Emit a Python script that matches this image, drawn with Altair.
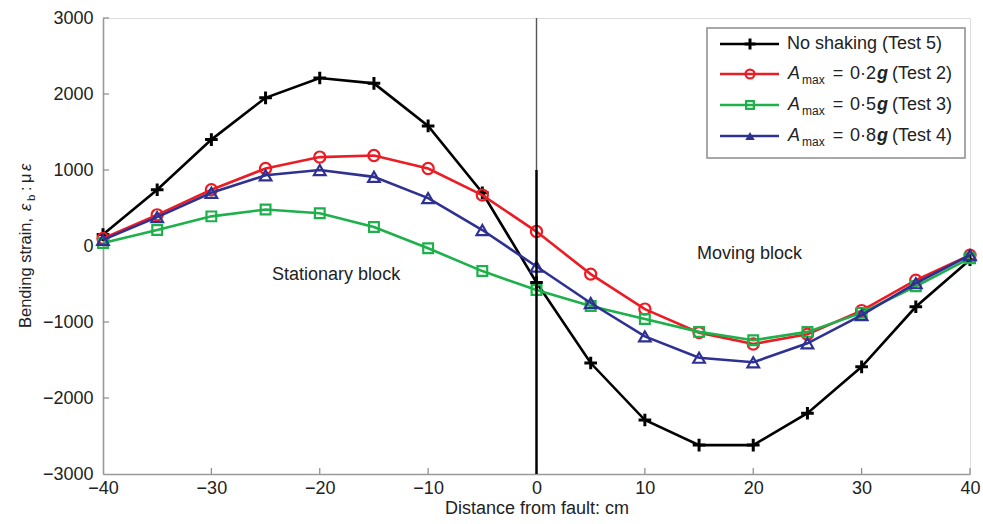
import altair as alt
import pandas as pd

# Distance from the fault (cm) at each strain gauge
distance = [-40, -35, -30, -25, -20, -15, -10, -5, 0, 5, 10, 15, 20, 25, 30, 35, 40]

# Bending strain (micro-strain) per test
no_shaking = [150, 740, 1400, 1950, 2210, 2140, 1580, 700, -480, -1540, -2290, -2620, -2620, -2200, -1590, -800, -180]
amax_02g = [100, 410, 740, 1020, 1170, 1190, 1020, 670, 190, -370, -830, -1140, -1290, -1160, -850, -450, -120]
amax_05g = [40, 210, 390, 480, 430, 250, -30, -330, -580, -790, -960, -1130, -1240, -1130, -880, -530, -160]
amax_08g = [80, 380, 700, 930, 1000, 910, 630, 210, -270, -750, -1190, -1470, -1530, -1280, -910, -490, -120]

series_names = ["No shaking (Test 5)", "Amax 0.2g (Test 2)", "Amax 0.5g (Test 3)", "Amax 0.8g (Test 4)"]
series_values = [no_shaking, amax_02g, amax_05g, amax_08g]
series_accel = [None, "0·2", "0·5", "0·8"]
series_test = ["(Test 5)", "(Test 2)", "(Test 3)", "(Test 4)"]

x_ticks = [-40, -30, -20, -10, 0, 10, 20, 30, 40]
y_ticks = [-3000, -2000, -1000, 0, 1000, 2000, 3000]

fault_x = 0
notes = ["Stationary block", "Moving block"]
notes_x = [-24.4, 14.8]
notes_y = [-380, -105]

# styling
FONT = "Liberation Sans"
TXT = "#222222"
colors = ["#000000", "#EC1C24", "#1DB04B", "#2E3192"]
plus_path = "M-1,0L1,0M0,-1L0,1"
shapes = [plus_path, "circle", "square", "triangle-up"]
sizes = [160, 125, 95, 135]

W, H = 867, 456

xscale = alt.Scale(domain=[-40, 40], nice=False, zero=False)
yscale = alt.Scale(domain=[-3000, 3000], nice=False, zero=False)
xaxis = alt.Axis(values=x_ticks, tickSize=0, grid=False, domainColor="#9a9a9a", domainWidth=1.6,
                 labelFontSize=18, labelColor=TXT, labelPadding=5, labelFont=FONT, format="d",
                 labelFlush=False,
                 title="Distance from fault: cm", titleFontSize=18, titleFontWeight="normal",
                 titleColor=TXT, titleFont=FONT, titlePadding=2)
yaxis = alt.Axis(values=y_ticks, tickSize=0, grid=False, domainColor="#9a9a9a", domainWidth=1.6,
                 labelFontSize=18, labelColor=TXT, labelPadding=10, labelFont=FONT, format="d",
                 labelFlush=False, title=None)


def X(field="distance"):
    return alt.X(f"{field}:Q", scale=xscale, axis=xaxis)


def Y(field="strain"):
    return alt.Y(f"{field}:Q", scale=yscale, axis=yaxis)


layers = []

# inward tick marks on both axes
xt = pd.DataFrame({"distance": x_ticks[1:]})
layers.append(alt.Chart(xt).mark_rule(color="#8a8a8a", strokeWidth=1.2).encode(
    x=X(), y=alt.value(H), y2=alt.value(H - 6)))
yt = pd.DataFrame({"strain": y_ticks[1:]})
layers.append(alt.Chart(yt).mark_rule(color="#8a8a8a", strokeWidth=1.2).encode(
    y=Y(), x=alt.value(0), x2=alt.value(6)))

# strain profiles
for name, vals, col, shp, sz in zip(series_names, series_values, colors, shapes, sizes):
    df = pd.DataFrame({"distance": distance, "strain": vals, "series": name})
    base = alt.Chart(df).encode(x=X(), y=Y())
    layers.append(base.mark_line(color=col, strokeWidth=2.6, clip=False))
    layers.append(base.mark_point(shape=shp, size=sz, color=col, filled=False,
                                  strokeWidth=2.2 if shp != plus_path else 3,
                                  opacity=1, clip=False))

# fault line
fault = pd.DataFrame({"distance": [fault_x], "strain": [3000], "strain_end": [-3000]})
layers.append(alt.Chart(fault).mark_rule(color="#555555", strokeWidth=1.4).encode(
    x=X(), y=Y(), y2="strain_end:Q"))
fault2 = pd.DataFrame({"distance": [fault_x], "strain": [1000], "strain_end": [-3000]})
layers.append(alt.Chart(fault2).mark_rule(color="#000000", strokeWidth=2.4).encode(
    x=X(), y=Y(), y2="strain_end:Q"))

# block annotations
nd = pd.DataFrame({"distance": notes_x, "strain": notes_y, "label": notes})
layers.append(alt.Chart(nd).mark_text(align="left", baseline="middle", font=FONT,
                                      fontSize=18, color=TXT).encode(
    x=X(), y=Y(), text="label:N"))

# y-axis title with Greek symbols and subscript
one = pd.DataFrame({"k": [0]})


def txt(s, x, y, size=16, angle=0, align="left", baseline="alphabetic", style="normal",
        weight="normal"):
    return alt.Chart(one).mark_text(text=s, align=align, baseline=baseline, angle=angle,
                                    font=FONT, fontSize=size, fontStyle=style,
                                    fontWeight=weight, color=TXT).encode(
        x=alt.value(x), y=alt.value(y))


tx = -72
layers += [
    txt("Bending strain,", tx, 310, size=16.5, angle=270),
    txt("ε", tx, 193, size=16.5, angle=270, style="italic"),
    txt("b", tx + 4, 183, size=11.5, angle=270),
    txt(":", tx, 173, size=16.5, angle=270),
    txt("μ", tx, 165, size=16.5, angle=270),
    txt("ε", tx, 153, size=16.5, angle=270, style="italic"),
]

# legend
layers.append(alt.Chart(one).mark_rect(fill="white", stroke="#8c8c8c", strokeWidth=1.5).encode(
    x=alt.value(604), x2=alt.value(862), y=alt.value(10), y2=alt.value(140)))
row_y = [26, 56, 87, 118]
legend_sizes = [120, 80, 60, 90]
LS = 18
for i, (col, shp, ry) in enumerate(zip(colors, shapes, row_y)):
    layers.append(alt.Chart(one).mark_rule(color=col, strokeWidth=2.6).encode(
        x=alt.value(617), x2=alt.value(676), y=alt.value(ry)))
    layers.append(alt.Chart(one).mark_point(shape=shp, size=legend_sizes[i], color=col,
                                            filled=(shp == "triangle-up"), opacity=1,
                                            strokeWidth=2.2 if shp != plus_path else 3).encode(
        x=alt.value(647), y=alt.value(ry)))
    if series_accel[i] is None:
        layers.append(txt(series_names[i], 684, ry, size=LS, baseline="middle"))
    else:
        layers += [
            txt("A", 685, ry, size=LS, baseline="middle", style="italic"),
            txt("max", 699, ry + 6, size=12, baseline="middle"),
            txt("=", 735, ry, size=LS, baseline="middle", align="center"),
            txt(series_accel[i], 773, ry, size=LS, baseline="middle", align="right"),
            txt("g", 774, ry, size=LS, baseline="middle", style="italic", weight="bold"),
            txt(series_test[i], 789, ry, size=LS, baseline="middle"),
        ]

chart = alt.layer(*layers).properties(
    width=W, height=H,
    autosize=alt.AutoSizeParams(type="none"),
    padding={"left": 103, "top": 18, "right": 13, "bottom": 50},
).configure_view(stroke=None).configure(font=FONT)

chart.save("out.html", embed_options={"renderer": "svg", "actions": False})
